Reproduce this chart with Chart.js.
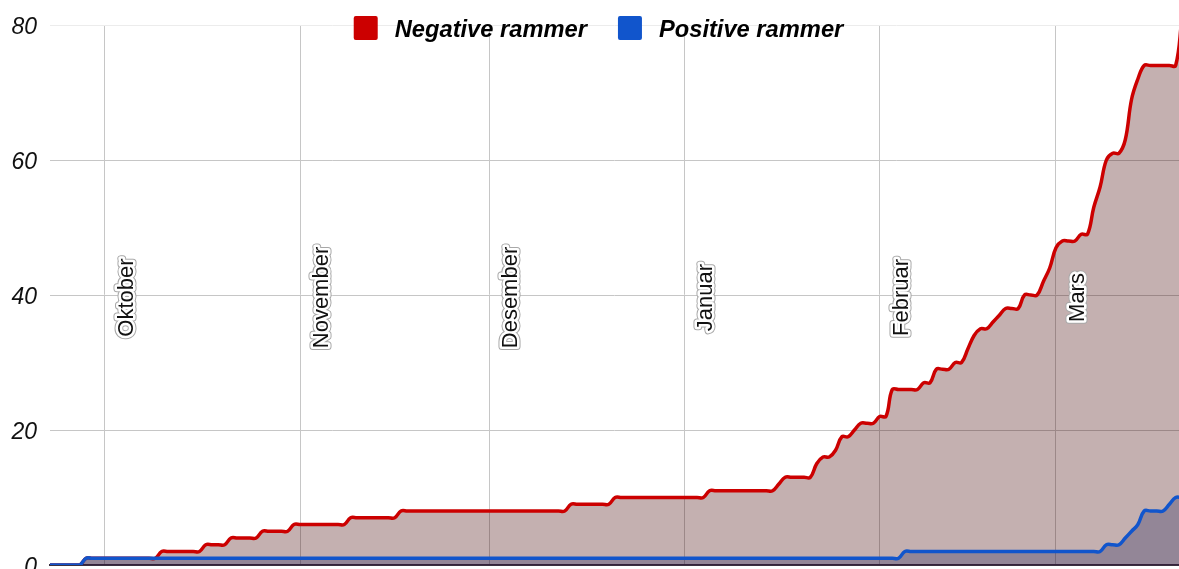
<!DOCTYPE html>
<html><head><meta charset="utf-8">
<script src="https://cdn.jsdelivr.net/npm/chart.js@4.4.0/dist/chart.umd.min.js"></script>
<style>html,body{margin:0;padding:0;background:#fff;overflow:hidden}canvas{display:block}</style>
</head><body>
<canvas id="c" width="1179" height="569" style="width:1179px;height:569px"></canvas>
<script>
// Day offsets relative to 1 October; first value is day -9 (22 Sept)
const firstDay = -9;
const seriesNames = ['Negative rammer', 'Positive rammer'];
const monthNames = ['Oktober', 'November', 'Desember', 'Januar', 'Februar', 'Mars'];
const monthStarts = [0, 31, 61, 92, 123, 151];
const yTicks = [0, 20, 40, 60, 80];

const negative = [
  0,0,0,0,0,0,1,1,1,1,
  1,1,1,1,1,1,1,1,2,2,
  2,2,2,2,2,3,3,3,3,4,
  4,4,4,4,5,5,5,5,5,6,
  6,6,6,6,6,6,6,6,7,7,
  7,7,7,7,7,7,8,8,8,8,
  8,8,8,8,8,8,8,8,8,8,
  8,8,8,8,8,8,8,8,8,8,
  8,8,8,9,9,9,9,9,9,9,
  10,10,10,10,10,10,10,10,10,10,
  10,10,10,10,10,11,11,11,11,11,
  11,11,11,11,11,11,12,13,13,13,
  13,13,15,16,16,17,19,19,20,21,
  21,21,22,22,26,26,26,26,26,27,
  27,29,29,29,30,30,32,34,35,35,
  36,37,38,38,38,40,40,40,42,44,
  47,48,48,48,49,49,53,56,60,61,
  61,63,69,72,74,74,74,74,74,74,81
];
const positive = [
  0,0,0,0,0,0,1,1,1,1,
  1,1,1,1,1,1,1,1,1,1,
  1,1,1,1,1,1,1,1,1,1,
  1,1,1,1,1,1,1,1,1,1,
  1,1,1,1,1,1,1,1,1,1,
  1,1,1,1,1,1,1,1,1,1,
  1,1,1,1,1,1,1,1,1,1,
  1,1,1,1,1,1,1,1,1,1,
  1,1,1,1,1,1,1,1,1,1,
  1,1,1,1,1,1,1,1,1,1,
  1,1,1,1,1,1,1,1,1,1,
  1,1,1,1,1,1,1,1,1,1,
  1,1,1,1,1,1,1,1,1,1,
  1,1,1,1,1,1,2,2,2,2,
  2,2,2,2,2,2,2,2,2,2,
  2,2,2,2,2,2,2,2,2,2,
  2,2,2,2,2,2,2,2,3,3,
  3,4,5,6,8,8,8,8,9,10,10
];

const toPoints = arr => arr.map((v, i) => ({ x: firstDay + i, y: v }));
const FONT = '"Liberation Sans", Arial, sans-serif';

const monthLabelPlugin = {
  id: 'monthLabels',
  afterDatasetsDraw(chart) {
    const ctx = chart.ctx, xs = chart.scales.x;
    ctx.save();
    ctx.font = '22px ' + FONT;
    ctx.textAlign = 'center';
    ctx.textBaseline = 'alphabetic';
    ctx.lineJoin = 'round';
    monthStarts.forEach((d, i) => {
      const px = xs.getPixelForValue(d);
      ctx.save();
      ctx.translate(px + 28, 297.5);
      ctx.rotate(-Math.PI / 2);
      ctx.strokeStyle = '#a8a8a8'; ctx.lineWidth = 7;
      ctx.strokeText(monthNames[i], 0, 0);
      ctx.strokeStyle = '#ffffff'; ctx.lineWidth = 5;
      ctx.strokeText(monthNames[i], 0, 0);
      ctx.fillStyle = '#111';
      ctx.fillText(monthNames[i], 0, 0);
      ctx.restore();
    });
    ctx.restore();
  }
};

const legendPlugin = {
  id: 'topLegend',
  afterDraw(chart) {
    const ctx = chart.ctx;
    ctx.save();
    ctx.font = 'italic bold 23.7px ' + FONT;
    const colors = chart.data.datasets.map(d => d.borderColor);
    const box = 24, gap = 17, itemGap = 31;
    const widths = seriesNames.map(n => ctx.measureText(n).width);
    const total = widths.reduce((a, w) => a + box + gap + w, 0) + itemGap * (seriesNames.length - 1);
    let x = 598.5 - total / 2;
    const cy = 28;
    seriesNames.forEach((n, i) => {
      ctx.fillStyle = colors[i];
      ctx.beginPath();
      ctx.roundRect(x, cy - 12, box, box, 2);
      ctx.fill();
      ctx.fillStyle = '#000';
      ctx.textBaseline = 'alphabetic';
      ctx.textAlign = 'left';
      ctx.fillText(n, x + box + gap, cy + 8.5);
      x += box + gap + widths[i] + itemGap;
    });
    ctx.restore();
  }
};

new Chart(document.getElementById('c'), {
  type: 'line',
  data: {
    datasets: [
      {
        label: seriesNames[0], data: toPoints(negative),
        borderColor: '#cc0000', backgroundColor: 'rgba(66,0,0,0.31)',
        borderWidth: 3.5, fill: 'origin', tension: 0.4, pointRadius: 0, order: 1
      },
      {
        label: seriesNames[1], data: toPoints(positive),
        borderColor: '#1155cc', backgroundColor: 'rgba(40,40,92,0.31)',
        borderWidth: 3.5, fill: 'origin', tension: 0.4, pointRadius: 0, order: 0
      }
    ]
  },
  options: {
    responsive: false,
    animation: false,
    devicePixelRatio: 1,
    layout: { padding: { top: 25, left: 0, right: 0, bottom: 0 }, autoPadding: false },
    plugins: { legend: { display: false }, tooltip: { enabled: false } },
    scales: {
      x: {
        type: 'linear', min: -8.73, max: 170.53, position: 'bottom',
        afterBuildTicks: s => { s.ticks = monthStarts.map(v => ({ value: v })); },
        afterFit: s => { s.height = 4; s.paddingLeft = 0; s.paddingRight = 0; },
        ticks: { display: false },
        grid: { color: '#c6c6c6', lineWidth: 1, drawTicks: false },
        border: { display: true, color: '#3a3040', width: 2 }
      },
      y: {
        min: 0, max: 80,
        afterBuildTicks: s => { s.ticks = yTicks.map(v => ({ value: v })); },
        afterFit: s => { s.width = 50; s.paddingTop = 0; s.paddingBottom = 0; },
        ticks: { font: { family: FONT, size: 23, style: 'italic' }, color: '#111', padding: 13, labelOffset: 2.5 },
        grid: { color: c => (c.tick && c.tick.value === 80) ? '#ececec' : '#c6c6c6', lineWidth: 1, drawTicks: false },
        border: { display: false }
      }
    }
  },
  plugins: [monthLabelPlugin, legendPlugin]
});
</script>
</body></html>
